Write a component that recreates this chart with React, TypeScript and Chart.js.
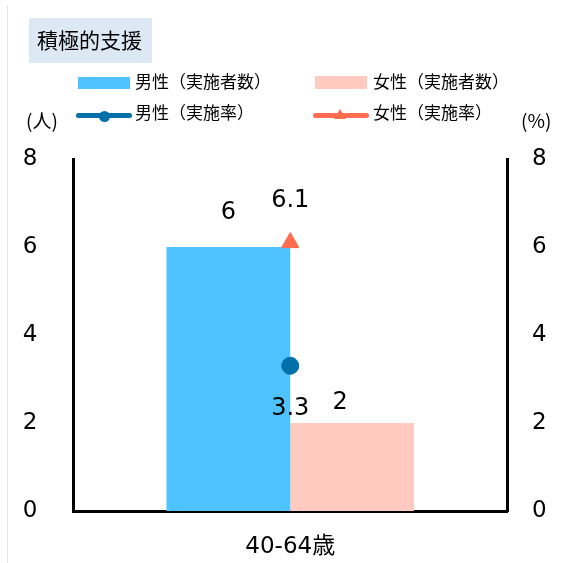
import React, { useEffect, useRef } from "react";
import { Chart, registerables } from "chart.js";

Chart.register(...registerables);

const categories = ["40-64歳"];
const maleCount = [6];
const femaleCount = [2];
const maleRate = [3.3];
const femaleRate = [6.1];
const yTicks = [0, 2, 4, 6, 8];

const title = "積極的支援";
const seriesNames = ["男性（実施者数）", "女性（実施者数）", "男性（実施率）", "女性（実施率）"];

const COLORS = {
  male: "rgb(79,195,255)",
  female: "rgb(255,203,192)",
  maleLine: "rgb(0,112,168)",
  femaleLine: "rgb(255,108,80)",
};

const NUM_FONT = "'DejaVu Sans', 'Noto Sans CJK JP', sans-serif";
const JP_FONT = "'Noto Sans CJK JP', 'DejaVu Sans', sans-serif";

// label offsets per dataset (style only)
const labelOffsets = [
  { dx: 0, dy: -34 },
  { dx: -12, dy: -20 },
  { dx: 0, dy: 43 },
  { dx: 0, dy: -42 },
];

const dataLabelPlugin = {
  id: "dataLabels",
  afterDatasetsDraw(chart: any) {
    const ctx = chart.ctx;
    ctx.save();
    ctx.font = `24px ${NUM_FONT}`;
    ctx.fillStyle = "#000";
    ctx.textAlign = "center";
    ctx.textBaseline = "middle";
    chart.data.datasets.forEach((ds: any, i: number) => {
      const meta = chart.getDatasetMeta(i);
      meta.data.forEach((el: any, j: number) => {
        const v = ds.data[j];
        const off = labelOffsets[i];
        ctx.fillText(String(v), el.x + off.dx, el.y + off.dy);
      });
    });
    ctx.restore();
  },
};

function ChartCanvas() {
  const ref = useRef<HTMLCanvasElement | null>(null);
  useEffect(() => {
    if (!ref.current) return;
    const chart = new Chart(ref.current, {
      type: "bar",
      data: {
        labels: categories,
        datasets: [
          {
            type: "bar",
            label: seriesNames[0],
            data: maleCount,
            backgroundColor: COLORS.male,
            yAxisID: "y",
            order: 2,
            categoryPercentage: 0.571,
            barPercentage: 1,
          },
          {
            type: "bar",
            label: seriesNames[1],
            data: femaleCount,
            backgroundColor: COLORS.female,
            yAxisID: "y",
            order: 2,
            categoryPercentage: 0.571,
            barPercentage: 1,
          },
          {
            type: "line",
            label: seriesNames[2],
            data: maleRate,
            borderColor: COLORS.maleLine,
            backgroundColor: COLORS.maleLine,
            pointStyle: "circle",
            pointRadius: 8.5,
            pointBorderWidth: 1,
            yAxisID: "y1",
            order: 1,
          },
          {
            type: "line",
            label: seriesNames[3],
            data: femaleRate,
            borderColor: COLORS.femaleLine,
            backgroundColor: COLORS.femaleLine,
            pointStyle: "triangle",
            pointRadius: 10,
            pointBorderWidth: 1,
            yAxisID: "y1",
            order: 0,
          },
        ] as any,
      },
      options: {
        animation: false,
        responsive: false,
        maintainAspectRatio: false,
        layout: { padding: { top: 159, left: 0, right: 0, bottom: 0 } },
        plugins: {
          legend: { display: false },
          tooltip: { enabled: false },
          title: { display: false },
        },
        scales: {
          x: {
            grid: { display: false, drawTicks: false },
            border: { display: true, color: "#000", width: 3 },
            ticks: { color: "#000", font: { family: NUM_FONT, size: 23 }, padding: 22 },
            afterFit: (s: any) => {
              s.height = 52;
            },
          },
          y: {
            position: "left",
            min: 0,
            max: 8,
            afterBuildTicks: (s: any) => {
              s.ticks = yTicks.map((v) => ({ value: v }));
            },
            grid: { display: false, drawTicks: false },
            border: { display: true, color: "#000", width: 3 },
            ticks: { color: "#000", font: { family: NUM_FONT, size: 23 }, padding: 36 },
            afterFit: (s: any) => {
              s.width = 73.5;
            },
          },
          y1: {
            position: "right",
            min: 0,
            max: 8,
            afterBuildTicks: (s: any) => {
              s.ticks = yTicks.map((v) => ({ value: v }));
            },
            grid: { display: false, drawTicks: false },
            border: { display: true, color: "#000", width: 3 },
            ticks: { color: "#000", font: { family: NUM_FONT, size: 23 }, padding: 25 },
            afterFit: (s: any) => {
              s.width = 61;
            },
          },
        },
      } as any,
      plugins: [dataLabelPlugin],
    });
    return () => chart.destroy();
  }, []);
  return (
    <canvas
      ref={ref}
      width={568}
      height={563}
      style={{ position: "absolute", left: 0, top: 0, width: 568, height: 563 }}
    />
  );
}

const textStyle: React.CSSProperties = {
  position: "absolute",
  fontFamily: JP_FONT,
  fontSize: 17,
  color: "#000",
  whiteSpace: "nowrap",
  lineHeight: "20px",
};

export default function App() {
  return (
    <div
      style={{
        position: "absolute",
        left: 0,
        top: 0,
        width: 568,
        height: 563,
        background: "#fff",
        overflow: "hidden",
      }}
    >
      <div style={{ position: "absolute", left: 7, top: 5, width: 1, height: 558, background: "#e4e4e4" }} />
      <ChartCanvas />
      <div
        style={{
          position: "absolute",
          left: 29,
          top: 18,
          width: 123,
          height: 45,
          background: "rgb(221,232,245)",
        }}
      />
      <div style={{ ...textStyle, left: 37, top: 27, fontSize: 21, lineHeight: "25px" }}>{title}</div>

      {/* legend row 1 */}
      <div style={{ position: "absolute", left: 78, top: 77, width: 52, height: 12, background: COLORS.male }} />
      <div style={{ ...textStyle, left: 135, top: 71 }}>{seriesNames[0]}</div>
      <div style={{ position: "absolute", left: 315, top: 76, width: 52, height: 13, background: COLORS.female }} />
      <div style={{ ...textStyle, left: 373, top: 71 }}>{seriesNames[1]}</div>

      {/* legend row 2 */}
      <div
        style={{
          position: "absolute",
          left: 76,
          top: 113,
          width: 56,
          height: 5,
          borderRadius: 3,
          background: COLORS.maleLine,
        }}
      />
      <div
        style={{
          position: "absolute",
          left: 98.5,
          top: 110.5,
          width: 11,
          height: 11,
          borderRadius: "50%",
          background: COLORS.maleLine,
        }}
      />
      <div style={{ ...textStyle, left: 135, top: 102 }}>{seriesNames[2]}</div>
      <div
        style={{
          position: "absolute",
          left: 313,
          top: 112.5,
          width: 56,
          height: 5,
          borderRadius: 3,
          background: COLORS.femaleLine,
        }}
      />
      <div
        style={{
          position: "absolute",
          left: 334,
          top: 109,
          width: 0,
          height: 0,
          borderLeft: "6px solid transparent",
          borderRight: "6px solid transparent",
          borderBottom: `10px solid ${COLORS.femaleLine}`,
        }}
      />
      <div style={{ ...textStyle, left: 373, top: 102 }}>{seriesNames[3]}</div>

      <div style={{ ...textStyle, left: 26, top: 109, fontSize: 19, lineHeight: "22px" }}>(人)</div>
      <div style={{ ...textStyle, left: 521, top: 109, fontSize: 19, lineHeight: "22px" }}>(%)</div>
    </div>
  );
}
